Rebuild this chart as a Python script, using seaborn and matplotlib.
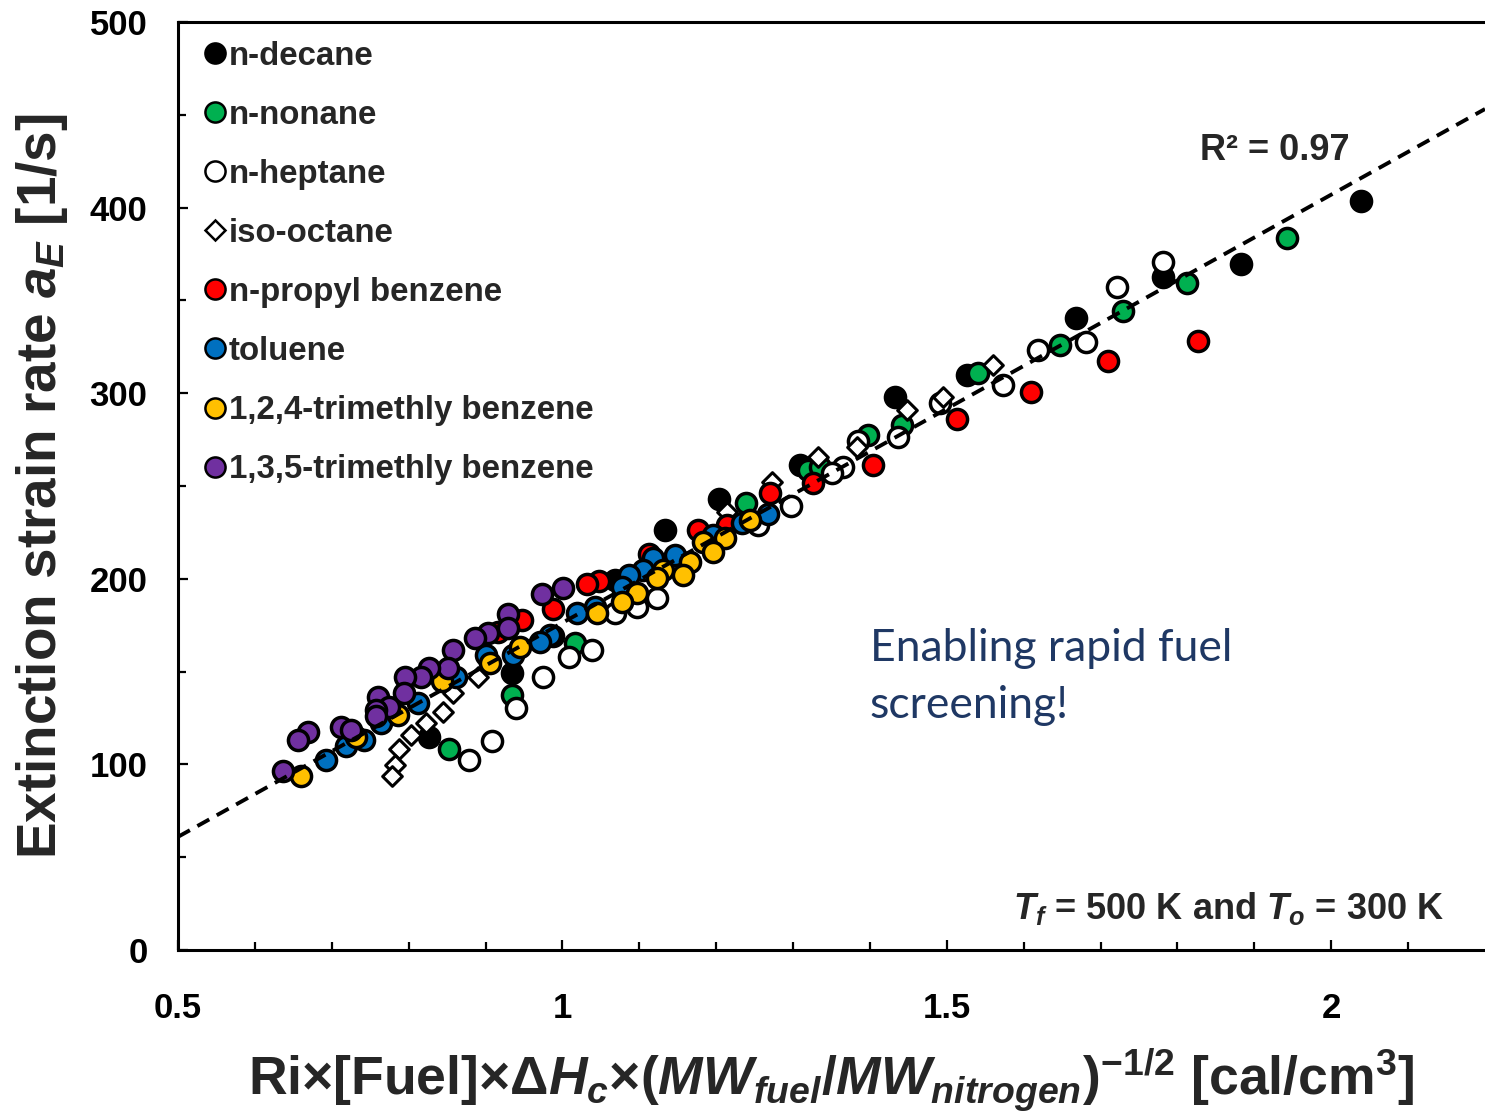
import matplotlib
matplotlib.use("Agg")
import matplotlib.pyplot as plt
from matplotlib.lines import Line2D
import seaborn as sns
import pandas as pd

# ---------------- data ----------------
decane_x = [2.039, 1.883, 1.781, 1.668, 1.526, 1.432, 1.309, 1.204, 1.134, 1.069, 0.988, 0.935, 0.827]
decane_y = [403.6, 369.6, 362.6, 340.5, 309.8, 298.0, 261.3, 243.0, 226.3, 199.4, 169.2, 149.2, 114.8]

nonane_x = [1.942, 1.813, 1.729, 1.647, 1.540, 1.442, 1.397, 1.319, 1.335, 1.239, 1.017, 0.935, 0.853]
nonane_y = [383.6, 359.4, 344.3, 326.0, 310.9, 282.9, 277.5, 258.6, 260.0, 240.8, 165.4, 137.4, 108.3]

heptane_x = [1.781, 1.721, 1.681, 1.619, 1.573, 1.491, 1.436, 1.384, 1.365, 1.351, 1.297, 1.255,
             1.123, 1.097, 1.069, 1.039, 1.008, 0.975, 0.939, 0.908, 0.878]
heptane_y = [370.7, 357.2, 327.6, 323.3, 304.4, 294.7, 276.4, 274.2, 260.2, 257.0, 239.2, 229.0,
             189.7, 184.8, 181.6, 161.6, 157.9, 147.1, 130.4, 112.6, 102.4]

isooctane_x = [1.560, 1.495, 1.448, 1.383, 1.332, 1.273, 1.214, 0.890, 0.858, 0.845, 0.822, 0.803,
               0.787, 0.782, 0.778]
isooctane_y = [315.2, 298.0, 291.0, 271.0, 265.6, 252.2, 236.0, 147.1, 138.5, 128.2, 122.3, 115.8,
               108.3, 99.7, 93.8]

propylbenzene_x = [1.827, 1.710, 1.610, 1.513, 1.404, 1.326, 1.270, 1.214, 1.177, 1.112, 1.047,
                   1.032, 0.988, 0.948, 0.916]
propylbenzene_y = [328.1, 317.3, 300.6, 286.1, 261.3, 251.6, 246.2, 229.0, 226.3, 213.4, 198.8,
                   197.2, 183.7, 177.8, 171.3]

toluene_x = [1.268, 1.234, 1.196, 1.147, 1.118, 1.105, 1.086, 1.078, 1.043, 1.019, 0.984, 0.971,
             0.936, 0.900, 0.861, 0.812, 0.764, 0.742, 0.718, 0.692]
toluene_y = [234.9, 230.0, 223.6, 212.8, 211.2, 204.7, 202.0, 195.6, 184.8, 181.6, 169.7, 165.9,
             158.9, 158.9, 147.1, 133.1, 122.3, 113.1, 109.9, 102.4]

tmb124_x = [1.244, 1.212, 1.183, 1.196, 1.166, 1.157, 1.131, 1.123, 1.097, 1.078, 1.045, 0.945,
            0.906, 0.844, 0.786, 0.731, 0.660]
tmb124_y = [231.7, 222.0, 219.8, 214.4, 209.0, 202.0, 204.7, 200.4, 192.3, 187.5, 181.6, 163.3,
            154.6, 144.9, 126.6, 114.8, 93.8]

tmb135_x = [1.001, 0.974, 0.929, 0.929, 0.903, 0.886, 0.858, 0.851, 0.826, 0.816, 0.795, 0.794,
            0.760, 0.774, 0.757, 0.757, 0.712, 0.725, 0.669, 0.656, 0.636]
tmb135_y = [195.0, 191.8, 181.0, 173.5, 170.8, 168.1, 161.6, 151.9, 151.9, 147.1, 147.1, 138.5,
            136.3, 130.9, 129.3, 126.1, 120.2, 118.5, 117.5, 113.1, 96.4]

series_names = ["n-decane", "n-nonane", "n-heptane", "iso-octane", "n-propyl benzene",
                "toluene", "1,2,4-trimethly benzene", "1,3,5-trimethly benzene"]
series_x = [decane_x, nonane_x, heptane_x, isooctane_x, propylbenzene_x, toluene_x, tmb124_x, tmb135_x]
series_y = [decane_y, nonane_y, heptane_y, isooctane_y, propylbenzene_y, toluene_y, tmb124_y, tmb135_y]
series_colors = ["#000000", "#00B050", "#FFFFFF", "#FFFFFF", "#FF0000", "#0070C0", "#FFC000", "#7030A0"]
series_markers = ["o", "o", "o", "D", "o", "o", "o", "o"]

x_ticks = [0.5, 1, 1.5, 2]
x_tick_labels = ["0.5", "1", "1.5", "2"]
y_ticks = [0, 100, 200, 300, 400, 500]
y_tick_labels = ["0", "100", "200", "300", "400", "500"]

r2_text = "R² = 0.97"
note_lines = ["Enabling rapid fuel", "screening!"]
cond_text = r"$T_f$ = 500 K and $T_o$ = 300 K"
x_label = r"Ri×[Fuel]×$\mathit{ΔH_c}$×($\mathit{MW_{fuel}/MW_{nitrogen}}$)$^{\mathrm{-1/2}}$ [cal/cm$^{\mathrm{3}}$]"
y_label = r"Extinction strain rate $\mathit{a_E}$ [1/s]"

# ---------------- style ----------------
sns.set_style("ticks")
plt.rcParams["font.family"] = ["Liberation Sans", "DejaVu Sans"]
plt.rcParams["font.weight"] = "bold"
plt.rcParams["mathtext.fontset"] = "custom"
plt.rcParams["mathtext.rm"] = "Liberation Sans:bold"
plt.rcParams["mathtext.it"] = "Liberation Sans:bold:italic"
plt.rcParams["mathtext.bf"] = "Liberation Sans:bold"
plt.rcParams["axes.unicode_minus"] = False

fig = plt.figure(figsize=(14.85, 11.14), dpi=100)
ax = fig.add_axes([178 / 1485, 1 - 950 / 1114, 1 - 178 / 1485, (950 - 22) / 1114])

ax.set_xlim(0.5, 2.2)
ax.set_ylim(0, 500)

frames = []
for name, xs, ys in zip(series_names, series_x, series_y):
    frames.append(pd.DataFrame({"x": xs, "y": ys, "fuel": name}))
df = pd.concat(frames, ignore_index=True)

for name, col, mk in zip(series_names, series_colors, series_markers):
    sub = df[df["fuel"] == name]
    sns.scatterplot(data=sub, x="x", y="y", color=col, marker=mk,
                    s=(100 if mk == "D" else 210), edgecolor="black",
                    linewidth=(2.2 if mk == "D" else 2.5), legend=False, ax=ax, zorder=3)

# linear trend line over all data
sns.regplot(data=df, x="x", y="y", scatter=False, ci=None, truncate=False, ax=ax,
            line_kws=dict(color="black", lw=2.8, linestyle=(0, (3.5, 2.2)), zorder=5))

ax.set_xlim(0.5, 2.2)
ax.set_ylim(0, 500)

# ticks
ax.set_xticks(x_ticks)
ax.set_xticklabels(x_tick_labels)
ax.set_xticks([0.6, 0.7, 0.8, 0.9, 1.1, 1.2, 1.3, 1.4, 1.6, 1.7, 1.8, 1.9, 2.1], minor=True)
ax.set_yticks(y_ticks)
ax.set_yticklabels(y_tick_labels)
ax.set_yticks([50, 150, 250, 350, 450], minor=True)
ax.tick_params(axis="both", which="both", direction="in", width=1.6, colors="black")
ax.tick_params(axis="both", which="major", length=7)
ax.tick_params(axis="both", which="minor", length=5.5)
ax.tick_params(axis="x", which="major", labelsize=25, pad=30)
ax.tick_params(axis="y", which="major", labelsize=25, pad=22)
for lab in ax.get_xticklabels() + ax.get_yticklabels():
    lab.set_fontweight("bold")

for side in ["left", "bottom", "top"]:
    ax.spines[side].set_linewidth(2.2)
    ax.spines[side].set_color("black")
ax.spines["right"].set_visible(False)

ax.set_xlabel(x_label, fontsize=38.5, fontweight="bold", labelpad=16)
ax.set_ylabel(y_label, fontsize=39.5, fontweight="bold", labelpad=14)

# legend
handles = []
for col, mk in zip(series_colors, series_markers):
    handles.append(Line2D([], [], linestyle="none", marker=mk, markerfacecolor=col,
                          markeredgecolor="black", markeredgewidth=1.8,
                          markersize=(10.5 if mk == "D" else 14.5)))
leg = ax.legend(handles, series_names, loc="upper left", bbox_to_anchor=(0.021, 0.980),
                frameon=False, handlelength=0.55, handletextpad=0.15, labelspacing=0.85,
                borderpad=0, borderaxespad=0,
                prop={"family": "Liberation Sans", "weight": "bold", "size": 23.8})

# annotations
ax.text(1.829, 430.5, r2_text, fontsize=26, fontweight="bold", ha="left", va="center")
ax.text(1.40, 162.7, note_lines[0], fontsize=32, fontweight="normal", family="Lato",
        color="#1F3864", ha="left", va="center")
ax.text(1.40, 132.0, note_lines[1], fontsize=32, fontweight="normal", family="Lato",
        color="#1F3864", ha="left", va="center")
ax.text(2.147, 22.6, cond_text, fontsize=26, fontweight="bold", ha="right", va="center")

fig.savefig("out.png", dpi=100)
